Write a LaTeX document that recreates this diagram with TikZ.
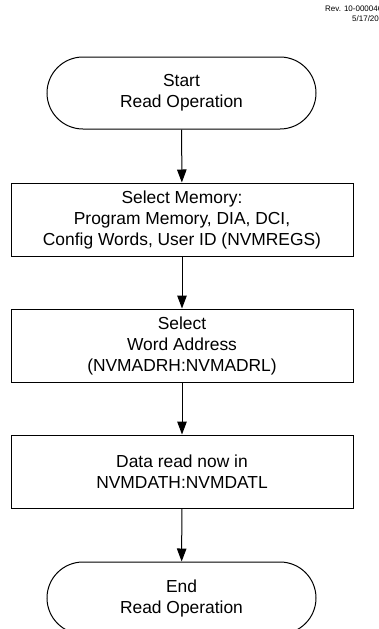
\documentclass[tikz,border=0pt]{standalone}
\usepackage{fontspec}
\setmainfont{Liberation Sans}
\usetikzlibrary{arrows.meta}
\begin{document}
\begin{tikzpicture}[x=1pt,y=-1pt,
  txt/.style={font=\fontsize{17.4}{21}\selectfont, align=center, inner sep=0pt},
  small/.style={anchor=base west, inner sep=0pt, font=\fontsize{8}{9}\selectfont},
  term/.style={txt, draw=black, line width=1pt, rounded corners=36pt, minimum width=269pt, minimum height=72pt},
  stepbox/.style={txt, draw=black, line width=1pt, minimum width=342pt, minimum height=73pt},
  conn/.style={line width=1pt, -{Triangle[length=13pt,width=9.5pt]}}]
\useasboundingbox (0,0) rectangle (379,629);
\node[small] (rev) at (325,12) {Rev. 10-000046};
\node[small] (date) at (352,21) {5/17/2017};
\node[term] (start) at (181.5,93) {Start\\Read Operation};
\node[stepbox] (sel) at (182,219.5) {Select Memory:\\Program Memory, DIA, DCI,\\Config Words, User ID (NVMREGS)};
\node[stepbox] (addr) at (182,345.5) {Select\\Word Address\\(NVMADRH:NVMADRL)};
\node[stepbox] (data) at (182,471.5) {Data read now in\\NVMDATH:NVMDATL};
\node[term] (end) at (181.5,598) {End\\Read Operation};
\draw[conn] (start) -- (sel);
\draw[conn] (sel) -- (addr);
\draw[conn] (addr) -- (data);
\draw[conn] (data) -- (end);
\end{tikzpicture}
\end{document}
